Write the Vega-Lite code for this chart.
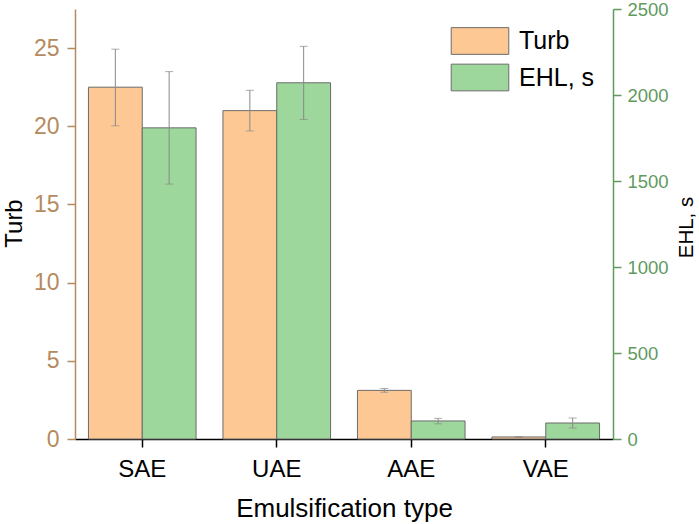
{
  "$schema": "https://vega.github.io/schema/vega-lite/v6.json",
  "width": 538,
  "height": 430,
  "autosize": "none",
  "padding": {"left": 75, "top": 9, "right": 86, "bottom": 85},
  "config": {
    "font": "Liberation Sans",
    "view": {"stroke": null},
    "axis": {"grid": false, "titleFontWeight": "normal", "titleColor": "black", "labelColor": "black"}
  },
  "data": {
    "values": [
      {"type": "SAE", "series": "Turb", "value": 22.5, "lo": 20.03, "hi": 24.93},
      {"type": "SAE", "series": "EHL, s", "value": 1809, "lo": 1482, "hi": 2136},
      {"type": "UAE", "series": "Turb", "value": 21.0, "lo": 19.7, "hi": 22.3},
      {"type": "UAE", "series": "EHL, s", "value": 2071, "lo": 1858, "hi": 2283},
      {"type": "AAE", "series": "Turb", "value": 3.11, "lo": 2.99, "hi": 3.23},
      {"type": "AAE", "series": "EHL, s", "value": 105, "lo": 88, "hi": 120},
      {"type": "VAE", "series": "Turb", "value": 0.13, "lo": 0.11, "hi": 0.15},
      {"type": "VAE", "series": "EHL, s", "value": 93, "lo": 64, "hi": 122}
    ]
  },
  "encoding": {
    "x": {
      "field": "type",
      "type": "nominal",
      "sort": ["SAE", "UAE", "AAE", "VAE"],
      "scale": {"paddingInner": 0.2, "paddingOuter": 0.1},
      "axis": {
        "labelAngle": 0,
        "labelFontSize": 24,
        "labelPadding": 10,
        "domainColor": "black",
        "domainWidth": 1.5,
        "tickColor": "black",
        "tickWidth": 1.5,
        "tickSize": 8,
        "title": "Emulsification type",
        "titleFontSize": 26,
        "titleX": 269,
        "titleY": 77.5,
        "titleAlign": "center",
        "titleBaseline": "alphabetic"
      }
    },
    "xOffset": {
      "field": "series",
      "type": "nominal",
      "scale": {"domain": ["Turb", "EHL, s"], "paddingInner": 0, "paddingOuter": 0}
    }
  },
  "layer": [
    {
      "transform": [{"filter": "datum.series == 'Turb'"}],
      "encoding": {
        "y": {
          "field": "value",
          "type": "quantitative",
          "title": "Turb",
          "scale": {"domain": [0, 27.5], "nice": false},
          "axis": {
            "orient": "left",
            "values": [0, 5, 10, 15, 20, 25],
            "domainColor": "#b58a5e",
            "domainWidth": 1.5,
            "tickColor": "#b58a5e",
            "tickWidth": 1.5,
            "tickSize": 8,
            "labelColor": "#b58a5e",
            "labelFontSize": 23,
            "labelPadding": 8,
            "titleFontSize": 24,
            "titleAngle": 270,
            "titleX": -54,
            "titleY": 214,
            "titleAlign": "center",
            "titleBaseline": "alphabetic"
          }
        }
      },
      "layer": [
        {
          "mark": {"type": "bar", "stroke": "#6b6b6b", "strokeWidth": 1},
          "encoding": {
            "fill": {
              "field": "series",
              "type": "nominal",
              "scale": {"domain": ["Turb", "EHL, s"], "range": ["#fdc894", "#9dd79b"]},
              "legend": {
                "orient": "none",
                "legendX": 390,
                "legendY": 17,
                "title": null,
                "padding": 0,
                "symbolType": "M-2,-0.927H2V0.927H-2Z",
                "symbolSize": 829,
                "symbolStrokeColor": "#6b6b6b",
                "symbolStrokeWidth": 1,
                "symbolOpacity": 1,
                "labelFontSize": 25,
                "labelColor": "black",
                "labelOffset": 24,
                "rowPadding": 4.5
              }
            }
          }
        },
        {
          "mark": {"type": "rule", "color": "#8a8a8a", "strokeWidth": 1},
          "encoding": {
            "y": {"field": "lo", "type": "quantitative", "title": "Turb"},
            "y2": {"field": "hi"}
          }
        },
        {
          "mark": {"type": "tick", "orient": "horizontal", "color": "#8a8a8a", "size": 8, "thickness": 1},
          "encoding": {"y": {"field": "lo", "type": "quantitative", "title": "Turb"}}
        },
        {
          "mark": {"type": "tick", "orient": "horizontal", "color": "#8a8a8a", "size": 8, "thickness": 1},
          "encoding": {"y": {"field": "hi", "type": "quantitative", "title": "Turb"}}
        }
      ]
    },
    {
      "transform": [{"filter": "datum.series == 'EHL, s'"}],
      "encoding": {
        "y": {
          "field": "value",
          "type": "quantitative",
          "title": "EHL, s",
          "scale": {"domain": [0, 2500], "nice": false},
          "axis": {
            "orient": "right",
            "values": [0, 500, 1000, 1500, 2000, 2500],
            "format": "d",
            "domainColor": "#5f9a5f",
            "domainWidth": 1.5,
            "tickColor": "#5f9a5f",
            "tickWidth": 1.5,
            "tickSize": 8,
            "labelColor": "#5f9a5f",
            "labelFontSize": 18.5,
            "labelPadding": 6,
            "titleFontSize": 20.5,
            "titleAngle": 270,
            "titleX": 79,
            "titleY": 218,
            "titleAlign": "center",
            "titleBaseline": "alphabetic"
          }
        }
      },
      "layer": [
        {
          "mark": {"type": "bar", "stroke": "#6b6b6b", "strokeWidth": 1},
          "encoding": {
            "fill": {
              "field": "series",
              "type": "nominal",
              "scale": {"domain": ["Turb", "EHL, s"], "range": ["#fdc894", "#9dd79b"]}
            }
          }
        },
        {
          "mark": {"type": "rule", "color": "#8a8a8a", "strokeWidth": 1},
          "encoding": {
            "y": {"field": "lo", "type": "quantitative", "title": "EHL, s"},
            "y2": {"field": "hi"}
          }
        },
        {
          "mark": {"type": "tick", "orient": "horizontal", "color": "#8a8a8a", "size": 8, "thickness": 1},
          "encoding": {"y": {"field": "lo", "type": "quantitative", "title": "EHL, s"}}
        },
        {
          "mark": {"type": "tick", "orient": "horizontal", "color": "#8a8a8a", "size": 8, "thickness": 1},
          "encoding": {"y": {"field": "hi", "type": "quantitative", "title": "EHL, s"}}
        }
      ]
    }
  ],
  "resolve": {"scale": {"y": "independent"}}
}
